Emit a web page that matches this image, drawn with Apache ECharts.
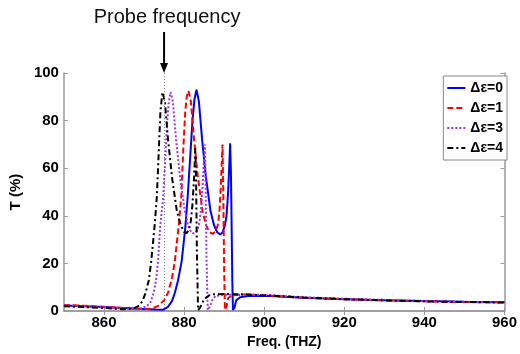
<!DOCTYPE html>
<html>
<head>
<meta charset="utf-8">
<script src="https://cdn.jsdelivr.net/npm/echarts@6/dist/echarts.min.js"></script>
<style>html,body{margin:0;padding:0;background:#fff;}#c{width:520px;height:354px;}</style>
</head>
<body>
<div id="c"></div>
<script>
// ---- data ----
var seriesNames = ['Δε=0', 'Δε=1', 'Δε=3', 'Δε=4'];
var xTicks = [860, 880, 900, 920, 940, 960];
var probeFreq = 875;
var probeLabel = 'Probe frequency';

var freq0 = [850, 855, 860, 865, 870, 873, 874.8, 876, 877, 877.7, 878.5, 879.4, 880.3, 880.9, 881.5, 882.1, 882.6, 883.1, 883.7, 884.5, 885.4, 886.6, 887.5, 888.3, 889.0, 889.6, 890.2, 890.6, 891.0, 891.3, 891.5, 891.7, 891.9, 892.05, 892.2, 892.6, 893.0, 894, 896, 900, 905, 910, 920, 930, 940, 950, 960];
var t0    = [2.3, 2.0, 1.7, 1.3, 0.9, 0.7, 0.6, 1.8, 4.3, 7.7, 13, 21, 35, 48, 64, 80, 89, 93, 88, 72, 57, 42, 36, 33, 32.2, 33, 36, 40, 50, 62, 70.5, 58, 32, 12, 0.5, 1.5, 4.5, 5.8, 6.3, 6.4, 6.0, 5.6, 5.0, 4.6, 4.2, 3.9, 3.7];

var freq1 = [850, 855, 860, 865, 870, 872, 873.6, 875, 876.0, 877.0, 877.7, 878.6, 879.3, 879.8, 880.3, 880.7, 881.1, 881.7, 882.5, 883.4, 884.6, 885.5, 886.4, 887.2, 887.8, 888.4, 888.8, 889.1, 889.4, 889.6, 889.8, 890.0, 890.2, 890.6, 891.0, 892, 895, 900, 905, 910, 920, 930, 940, 950, 960];
var t1    = [2.6, 2.2, 1.8, 1.3, 0.8, 1.0, 2.3, 4.5, 7.7, 14, 21, 35, 48, 68, 84, 90.5, 92.5, 88, 72, 57, 42, 36, 33, 32.5, 33.5, 36, 41, 50, 62, 70, 48, 18, 0.5, 2, 5.5, 6.6, 7.0, 6.7, 6.1, 5.6, 5.0, 4.5, 4.1, 3.8, 3.7];

var freq3 = [850, 855, 860, 865, 868, 869.5, 870.8, 871.6, 872.4, 873.0, 873.5, 874.0, 874.8, 875.3, 875.8, 876.2, 876.6, 877.2, 878.0, 879.0, 880.2, 881.0, 881.8, 882.5, 883.1, 883.7, 884.2, 884.6, 884.9, 885.2, 885.4, 885.6, 885.9, 886.5, 887.0, 887.8, 890, 895, 900, 905, 910, 920, 930, 940, 950, 960];
var t3    = [2.4, 2.0, 1.6, 1.1, 0.8, 1.2, 2.3, 3.7, 7.7, 13, 21, 35, 48, 64, 80, 88, 92, 88, 72, 56, 42, 36, 33, 32.6, 33.5, 36, 42, 52, 62, 70, 52, 22, 0.5, 2, 4.5, 6.3, 6.8, 7.0, 6.8, 6.3, 5.8, 5.2, 4.7, 4.2, 3.9, 3.7];

var freq4 = [850, 855, 860, 865, 867.5, 868.8, 869.6, 870.4, 871.2, 871.8, 872.6, 873.2, 873.7, 874.1, 874.6, 875.2, 876.0, 877.0, 878.2, 879.2, 880.1, 880.6, 881.2, 881.7, 882.1, 882.5, 882.8, 883.0, 883.2, 883.5, 884.0, 885.0, 886.6, 890, 895, 900, 905, 910, 920, 930, 940, 950, 960];
var t4    = [2.0, 1.7, 1.3, 0.8, 1.1, 2.3, 4.2, 7.7, 13, 21, 35, 48, 68, 84, 92, 88, 72, 56, 42, 36, 33, 32.8, 34, 38, 45, 56, 68.5, 55, 25, 0.3, 1.5, 5.0, 7.0, 7.2, 7.0, 6.6, 6.2, 5.7, 5.0, 4.5, 4.1, 3.8, 3.6];

// ---- chart ----
function zip(a, b) { return a.map(function (v, i) { return [v, b[i]]; }); }
var FONT = '"Liberation Sans", Arial, Helvetica, sans-serif';
var AXC = '#999999';

var chart = echarts.init(document.getElementById('c'), null, { renderer: 'canvas' });

function mkSeries(name, fx, ty, color, type, width) {
  return {
    name: name, type: 'line', data: zip(fx, ty), symbol: 'none',
    lineStyle: { color: color, type: type, width: width },
    itemStyle: { color: color },
    animation: false, z: 3
  };
}

var series = [
  mkSeries(seriesNames[0], freq0, t0, '#0000ff', 'solid', 2),
  mkSeries(seriesNames[1], freq1, t1, '#ff0000', [6, 3], 2),
  mkSeries(seriesNames[2], freq3, t3, '#9933ff', [2, 2], 2),
  mkSeries(seriesNames[3], freq4, t4, '#000000', [6, 3, 2, 3], 2)
];
series[3].markLine = {
  silent: true, symbol: 'none', animation: false,
  label: { show: false },
  lineStyle: { color: '#777', type: [1, 2], width: 1 },
  data: [{ xAxis: probeFreq }]
};

var axisLabelStyle = { color: '#000', fontFamily: FONT, fontWeight: 'bold', fontSize: 15, margin: 5 };

chart.setOption({
  animation: false,
  backgroundColor: '#fff',
  grid: { left: 56, right: 11, top: 73, bottom: 35, containLabel: false },
  legend: {
    data: seriesNames, orient: 'vertical', right: 13, top: 76,
    itemWidth: 18, itemHeight: 14, itemGap: 6, padding: [5, 4, 5, 3],
    borderColor: '#888', borderWidth: 1, backgroundColor: '#fff',
    itemStyle: { opacity: 0, borderWidth: 0 },
    textStyle: { color: '#000', fontFamily: FONT, fontWeight: 'bold', fontSize: 14 },
    selectedMode: false
  },
  xAxis: [{
    type: 'value', min: 850, max: 960, position: 'bottom',
    name: 'Freq. (THZ)', nameLocation: 'middle', nameGap: 19,
    nameTextStyle: { color: '#000', fontFamily: FONT, fontWeight: 'bold', fontSize: 14 },
    axisLine: { show: true, lineStyle: { color: AXC, width: 1.5 } },
    axisTick: { show: true, inside: true, length: 4, lineStyle: { color: AXC }, customValues: xTicks },
    axisLabel: Object.assign({ customValues: xTicks }, axisLabelStyle, { margin: 4 }),
    splitLine: { show: false }
  }, {
    type: 'value', min: 850, max: 960, position: 'top',
    axisLine: { show: true, lineStyle: { color: AXC, width: 1.5 } },
    axisTick: { show: true, inside: true, length: 4, lineStyle: { color: AXC }, customValues: xTicks },
    axisLabel: { show: false }, splitLine: { show: false }
  }],
  yAxis: [{
    type: 'value', min: 0, max: 100, interval: 20, position: 'left',
    name: 'T (%)', nameLocation: 'middle', nameGap: 30,
    nameTextStyle: { color: '#000', fontFamily: FONT, fontWeight: 'bold', fontSize: 15 },
    axisLine: { show: true, lineStyle: { color: AXC, width: 1.5 } },
    axisTick: { show: true, inside: true, length: 4, lineStyle: { color: AXC } },
    axisLabel: axisLabelStyle,
    splitLine: { show: false }
  }, {
    type: 'value', min: 0, max: 100, interval: 20, position: 'right',
    axisLine: { show: true, lineStyle: { color: AXC, width: 1.5 } },
    axisTick: { show: true, inside: true, length: 4, lineStyle: { color: AXC } },
    axisLabel: { show: false }, splitLine: { show: false }
  }],
  series: series
});

// probe annotation (arrow + label) positioned through the axis scales
var px = chart.convertToPixel({ xAxisIndex: 0 }, probeFreq);
var pyTop = chart.convertToPixel({ yAxisIndex: 0 }, 100);
chart.setOption({
  graphic: [
    { type: 'line', shape: { x1: px, y1: pyTop - 41, x2: px, y2: pyTop - 8 }, style: { stroke: '#000', lineWidth: 2 }, z: 10 },
    { type: 'polygon', shape: { points: [[px - 4, pyTop - 10], [px + 4, pyTop - 10], [px, pyTop]] }, style: { fill: '#000' }, z: 10 },
    { type: 'text', style: { text: probeLabel, x: px + 3, y: 17, align: 'center', verticalAlign: 'middle', font: '20px ' + FONT, fill: '#111' }, z: 10 }
  ]
});
</script>
</body>
</html>
